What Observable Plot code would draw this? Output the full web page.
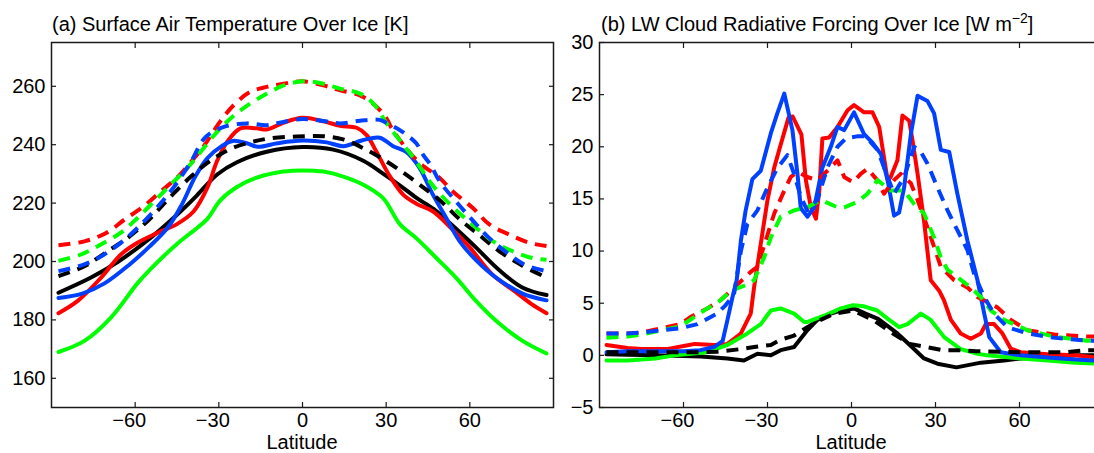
<!DOCTYPE html>
<html><head><meta charset="utf-8">
<script src="https://cdn.jsdelivr.net/npm/d3@7"></script>
<script src="https://cdn.jsdelivr.net/npm/@observablehq/plot@0.6"></script>
<style>
html,body{margin:0;padding:0;background:#fff;overflow:hidden;width:1094px;height:453px}
#wrap{position:relative;width:1094px;height:453px;overflow:hidden;font-family:"Liberation Sans",Arial,Helvetica,sans-serif;color:#000}
.title{position:absolute;font-size:20px;white-space:nowrap;line-height:1}
.xlabel{position:absolute;font-size:20px;white-space:nowrap;line-height:16px;transform:translateX(-50%)}
.sup{position:relative;top:-8px;font-size:14px}
#a,#b{position:absolute;top:0;width:560px;height:453px}
#a svg,#b svg{max-width:none !important;width:560px;height:453px}
</style></head><body>
<div id="wrap">
<div id="a" style="left:0px"></div>
<div id="b" style="left:560px"></div>
<div class="title" style="left:52px;top:14px">(a) Surface Air Temperature Over Ice [K]</div>
<div class="title" style="left:601px;top:14px">(b) LW Cloud Radiative Forcing Over Ice [W m<span class="sup">−2</span>]</div>
<div class="xlabel" style="left:302px;top:433.6px">Latitude</div>
<div class="xlabel" style="left:851px;top:433.6px">Latitude</div>
</div>
<script>
// ---------- tick values ----------
const latTicks = [-60, -30, 0, 30, 60];
const satTicks = [160, 180, 200, 220, 240, 260];
const lwTicks = [-5, 0, 5, 10, 15, 20, 25, 30];

// ---------- (a) Surface air temperature over ice [K]: [latitude, value] ----------
const satBlackSolid = [[-87.5,189.3],[-76,194.4],[-66,200],[-54.5,208.1],[-45,216],[-38,222.5],[-30.6,229.8],[-23.5,234],[-12.8,237.6],[0,239.2],[11,238.3],[21.8,234.5],[29,230],[35,226],[41,221.7],[47,218],[53,213],[62,205],[70.6,197],[79,191],[87.5,188.5]];
const satRedSolid = [[-87.5,182.3],[-80.6,186.5],[-72.3,194.4],[-65.1,202.4],[-59.2,206.4],[-52,209.8],[-45,212.8],[-39,217.2],[-34.2,225.1],[-30.6,234.5],[-27,241],[-22.3,245.6],[-16.4,245.6],[-12.8,245.2],[-6.9,247.5],[0,249.2],[7.5,248],[13.5,246.5],[19.4,245.8],[23,243.3],[26.5,237.6],[31,229.7],[36,223],[40.8,219.8],[46.7,217.2],[52.7,212],[59.8,205],[68,195.6],[76.5,189.5],[82,185.5],[87.5,182.3]];
const satGreenSolid = [[-87.5,169],[-78.2,172.8],[-68.7,180.8],[-59.2,192.5],[-54.4,197.5],[-45,206],[-37.8,211.5],[-34.2,214.5],[-29.4,221],[-23.5,225.5],[-16.4,228.7],[-6.9,230.8],[0,231.2],[7.5,230.8],[14.6,229.1],[21.8,226.3],[28.9,221.7],[34.9,212.8],[40.8,208],[48,201.2],[55.1,194.4],[62.2,186.5],[69.4,179.7],[78.9,172.8],[87.5,168.5]];
const satBlueSolid = [[-87.5,187.5],[-79,189],[-71,192.5],[-62,199],[-55,205],[-48,212],[-43,220],[-38.5,229],[-34,235.5],[-29,239.5],[-25,241.3],[-20,240.5],[-16,239.3],[-9,240.5],[0,241.4],[8.7,240.8],[14.6,239.5],[21.8,241.6],[27.7,242.4],[32.5,239.5],[37.2,237.5],[42,232],[46.7,223],[51.5,215],[56.3,207],[62.2,200.5],[69.4,194.5],[78.9,189],[87.5,186.7]];
const satBlackDash = [[-87.5,195],[-78.2,198.4],[-69.9,203.5],[-62.7,208.1],[-55.6,213.8],[-48.5,221],[-40.1,229],[-33,234.5],[-25.9,238.5],[-18.7,240.8],[-11.6,242.2],[-2,242.8],[7.4,242.9],[14.6,241.8],[21.8,238.8],[28.9,235],[36,230.5],[42,226.3],[49.2,221],[56.3,214.5],[63.5,209],[70.6,203.5],[79,198.5],[87.5,194.5]];
const satRedDash = [[-87.5,205.6],[-78.2,206.9],[-70.4,209.8],[-63.9,214.3],[-56.8,219],[-50.8,224],[-44.9,228.8],[-40.1,234],[-35.4,239.5],[-30,247.3],[-24.7,253.5],[-18.7,258.1],[-12.8,259.8],[-6.8,260.9],[0,261.7],[7.5,260.3],[13.5,258.6],[20.6,256.9],[26,253.5],[30.1,249],[32,245.6],[37,239],[42,233.7],[49.2,228.6],[53.9,224],[61.1,218.3],[67,212.7],[74.2,209.2],[81.3,206.4],[87.5,205.3]];
const satGreenDash = [[-87.5,200.2],[-79.4,202.4],[-72.3,205.8],[-64.5,210.3],[-59.2,214.9],[-53.2,220.6],[-47.3,226.3],[-41.3,232],[-36.5,237.6],[-30.6,244.4],[-25.2,249.5],[-18.7,254.1],[-12.7,257.5],[-6.8,260.3],[0,261.7],[7.5,260.9],[13.5,259.2],[20.6,257.5],[25.4,254.1],[30.2,247.3],[36.2,239.9],[40.8,234.2],[45.6,227.4],[50.4,222],[56.3,216.5],[62.3,211.5],[68.2,207],[75.4,203.5],[82.5,201.2],[87.5,200.6]];
const satBlueDash = [[-87.5,196.7],[-78.2,199],[-71.1,202.4],[-64.5,206.9],[-58,212.6],[-50.8,220],[-46.1,225.5],[-40.1,234],[-34.7,242.7],[-28.2,246.1],[-19.9,247.3],[-12.8,246.7],[-6.8,247.8],[0,248.8],[7.5,248.1],[13.5,247.3],[20.6,248.2],[27.7,248.5],[31,247],[34.9,245],[37.3,243.4],[40.8,240.5],[43.2,236.6],[46,233],[49.2,227.4],[55.1,220.5],[61.1,214],[67,208],[74.2,202.4],[80.1,198.7],[87.5,196.7]];

// ---------- (b) LW cloud radiative forcing over ice [W m-2]: [latitude, value] ----------
const lwBlackSolid = [[-87.5,0.1],[-80,0.05],[-70,0],[-60,-0.05],[-53.8,-0.1],[-44.3,-0.3],[-38.4,-0.5],[-33.6,0.15],[-28.8,0],[-25.3,0.5],[-20.5,0.8],[-15.8,2.4],[-12.2,3.4],[-7.4,4.0],[-3.8,4.3],[0.9,4.5],[5,4.0],[9.5,3.5],[16.4,2.1],[21.2,0.9],[25.9,-0.3],[30.7,-0.8],[37.5,-1.15],[46.2,-0.7],[54.5,-0.5],[60.5,-0.3],[70,-0.15],[80,0],[87.5,0]];
const lwRedSolid = [[-87.5,1.0],[-80,0.7],[-75,0.6],[-66,0.6],[-58,1.0],[-56,1.1],[-49,1.0],[-44.3,1.1],[-39.5,2.1],[-36,4.0],[-34.8,6.5],[-32.4,10.7],[-30,14.9],[-27.6,18],[-25.5,20],[-22.5,22.8],[-21,22.9],[-17.9,21.2],[-16.3,16.8],[-14.5,14.2],[-12.7,13.1],[-11.5,15.8],[-10.4,20.8],[-8,20.9],[-5,21.9],[-1.4,23.5],[0.9,24],[4.5,23.3],[7.5,23.3],[9.9,21.9],[11,20],[12.9,16.8],[14,17.1],[16.4,18.7],[18.2,23],[20.6,22.5],[21.8,20.6],[23.6,17.4],[25.9,12.9],[28.3,7.2],[31.3,6.2],[33,5.3],[35.5,3.4],[39,2.1],[42.6,1.6],[46.2,2.1],[48,3.0],[50.9,3.0],[53.9,2.1],[56.9,0.64],[60.5,0.3],[70,0.1],[80,0],[87.5,-0.2]];
const lwGreenSolid = [[-87.5,-0.5],[-80,-0.5],[-70,-0.3],[-63.3,0],[-51.5,0.3],[-44.3,1.0],[-37.2,2.1],[-32.4,3.0],[-28.8,4.3],[-25.3,4.5],[-20.5,4.0],[-16.9,3.2],[-15.7,3.2],[-9.8,3.8],[-3.8,4.5],[0.5,4.8],[4.5,4.7],[9.2,4.3],[13,3.5],[17,2.7],[20,3.0],[24.8,4.0],[28.3,3.4],[33.1,1.75],[39,0.6],[45,0.15],[48.5,0],[60.5,-0.3],[70,-0.5],[80,-0.7],[87.5,-0.8]];
const lwBlueSolid = [[-87.5,0.3],[-80,0.4],[-70,0.4],[-60,0.4],[-54,0.5],[-49,0.8],[-46,1.4],[-44.3,3.4],[-42.5,5.6],[-41,7.2],[-39.5,11],[-37.8,13.9],[-35.4,16.9],[-32.4,17.7],[-28.8,21.3],[-26.5,23.2],[-24,25.1],[-21.1,21.6],[-19.3,17.4],[-18.1,14.1],[-15.7,13.3],[-13.3,14.2],[-10.4,18],[-7.4,20],[-5,21.9],[-2.6,21.6],[0.9,23.3],[4.5,21.2],[7.5,20.4],[10.5,19.3],[12.9,16.8],[15.2,13.4],[17,13.7],[18.8,16.1],[21.2,21.2],[23.6,24.9],[27.1,24.4],[29.5,23.2],[31.9,19.7],[34.9,19.5],[37.8,15.5],[41.4,11],[45,7.2],[47.4,4.0],[49.2,1.75],[53.3,0.3],[60.5,0],[70,-0.2],[80,-0.4],[87.5,-0.5]];
const lwBlackDash = [[-87.5,0.3],[-70,0.3],[-55,0.3],[-48,0.35],[-39.5,0.6],[-34.8,0.8],[-28.8,1.0],[-25.3,1.5],[-20.5,1.9],[-15.8,2.7],[-11,3.4],[-6.2,4.0],[0.5,4.3],[7.7,3.4],[14.8,2.1],[20.8,1.1],[26.7,0.8],[32.6,0.5],[39,0.5],[44.5,0.4],[60.5,0.3],[77,0.3],[84,0.5],[87.5,0.5]];
const lwRedDash = [[-87.5,2.1],[-80,2.1],[-75,2.2],[-61,3.0],[-57.4,3.7],[-51.5,4.5],[-46.7,5.3],[-43,6.2],[-36,8.0],[-33.6,8.5],[-27.6,13.6],[-24,15.8],[-21.7,17.1],[-19.3,17.6],[-15.8,17.1],[-12.2,16.8],[-8.6,17.7],[-5,18.7],[-2.6,17.1],[0.5,16.6],[3.3,17.4],[5.7,17.9],[9.2,16.8],[11.6,15.5],[15.2,16.8],[17.6,17.4],[21.2,16.5],[23.6,14.9],[27.1,12.3],[29.5,10.4],[31.9,8.5],[36.7,7.2],[41.4,6.5],[45,5.6],[52.1,4.6],[56.9,3.4],[62.9,2.4],[72.4,2.0],[84.3,1.8],[87.5,1.8]];
const lwGreenDash = [[-87.5,1.7],[-80,1.8],[-75,2.0],[-61,2.8],[-51.5,4.5],[-46.7,5.3],[-43,6.2],[-37,6.8],[-34.8,7.2],[-31.2,9.4],[-28.8,11.3],[-25.3,13.3],[-20.5,13.9],[-15.8,14.2],[-11,14.9],[-5,14.2],[-2.6,14.2],[2.1,14.7],[5.7,15.5],[9.3,16.8],[14,15.8],[18.8,15.8],[22.4,14.5],[25.9,13.6],[29.5,11.3],[31.9,9.4],[34.3,8.2],[37.8,7.5],[42.6,6.5],[46.2,5.6],[49.8,4.3],[54.5,3.4],[62.9,2.4],[72.4,1.8],[84.3,1.4],[87.5,1.4]];
const lwBlueDash = [[-87.5,2.1],[-80,2.1],[-75,2.2],[-61,2.6],[-55,3.0],[-48,4.0],[-45,4.8],[-42,5.8],[-39.5,10],[-37.2,12.6],[-33.6,13.9],[-30,16.1],[-26.4,18.0],[-22.9,19.2],[-20.5,17.4],[-18.1,15.2],[-15.8,13.9],[-12.2,14.9],[-8.6,18.0],[-5,20.0],[-2,20.8],[2,21],[5,21],[9.3,19.7],[12.9,17.1],[15.2,15.5],[18.8,17.1],[22.4,20.0],[24.8,19.5],[27.1,18.4],[30.7,16.1],[34.3,13.9],[37.8,12.0],[41.4,10.1],[43.8,7.8],[47.4,5.6],[50.9,4.0],[55.7,2.7],[62.9,2.1],[72,1.7],[84.3,1.4],[87.5,1.4]];

// ---------- series styling ----------
const colors = {black: "#000000", red: "#ff0000", green: "#00ff00", blue: "#0040ff"};
const FONT = '"Liberation Sans", Arial, Helvetica, sans-serif';
const fmt = d => (d < 0 ? "\u2212" + Math.abs(d) : String(d));
const AX = "#1a1a1a";

function seriesMarks(list, curve) {
  return list.map(([data, color, dashed]) =>
    Plot.line(data, {
      x: d => d[0], y: d => d[1],
      stroke: colors[color], strokeWidth: 4, curve,
      strokeLinejoin: "round", strokeLinecap: dashed ? "butt" : "round",
      strokeDasharray: dashed ? "12,8" : null
    }));
}

function axes(yTicks) {
  return [
    Plot.frame({stroke: AX, strokeWidth: 1.5}),
    // bottom ticks (inward) with labels for non-negative values
    Plot.axisX(latTicks, {anchor: "bottom", tickSize: -5, tickPadding: 10, tickFormat: d => (d < 0 ? "" : fmt(d)), label: null, stroke: AX, strokeWidth: 1.2}),
    // labels for negative values: the minus sign hangs to the left of the centred digits
    Plot.axisX(latTicks.filter(d => d < 0), {anchor: "bottom", tickSize: 0, tickPadding: 5, dx: -6, tickFormat: fmt, label: null, stroke: "none"}),
    Plot.axisX(latTicks, {anchor: "top", tickSize: -5, tickFormat: () => "", label: null, stroke: AX, strokeWidth: 1.2}),
    Plot.axisY(yTicks, {anchor: "left", tickSize: -5, tickPadding: 11, tickFormat: fmt, label: null, stroke: AX, strokeWidth: 1.2}),
    Plot.axisY(yTicks, {anchor: "right", tickSize: -5, tickFormat: () => "", label: null, stroke: AX, strokeWidth: 1.2})
  ];
}

const common = {
  width: 560, height: 453, marginTop: 42, marginBottom: 46,
  style: {fontFamily: FONT, fontSize: "20px", color: "#000", background: "transparent", overflow: "visible", maxWidth: "none"}
};

const plotA = Plot.plot({
  ...common, marginLeft: 51, marginRight: 7,
  x: {domain: [-90, 90]}, y: {domain: [150, 275]},
  marks: [
    ...axes(satTicks),
    ...seriesMarks([
      [satBlackSolid, "black", false], [satRedSolid, "red", false], [satGreenSolid, "green", false], [satBlueSolid, "blue", false],
      [satBlackDash, "black", true], [satRedDash, "red", true], [satGreenDash, "green", true], [satBlueDash, "blue", true]
    ], "catmull-rom")
  ]
});

const plotB = Plot.plot({
  ...common, marginLeft: 39, marginRight: 17,
  x: {domain: [-90, 90]}, y: {domain: [-5, 30]},
  marks: [
    ...axes(lwTicks),
    ...seriesMarks([
      [lwBlackSolid, "black", false], [lwRedSolid, "red", false], [lwGreenSolid, "green", false], [lwBlueSolid, "blue", false],
      [lwBlackDash, "black", true], [lwRedDash, "red", true], [lwGreenDash, "green", true], [lwBlueDash, "blue", true]
    ], "linear")
  ]
});

document.getElementById("a").appendChild(plotA);
document.getElementById("b").appendChild(plotB);
</script>
</body></html>
